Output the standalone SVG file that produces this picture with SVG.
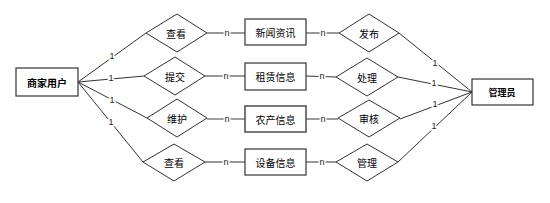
<svg xmlns="http://www.w3.org/2000/svg" width="550" height="203" viewBox="0 0 550 203">
<style>
.ent{fill:#fff;stroke:#333;stroke-width:1.2}
.rel{fill:#fff;stroke:#333;stroke-width:1}
.t{font-family:"Noto Sans CJK SC","Liberation Sans",sans-serif;font-size:10px;fill:#000;text-anchor:middle;dominant-baseline:central}
.lbl{font-family:"Liberation Sans",sans-serif;font-size:9px;fill:#222;text-anchor:middle;dominant-baseline:central;stroke:#fff;stroke-width:3;paint-order:stroke}
.ln{stroke:#333;stroke-width:1;fill:none}
.lg{stroke:#808080;stroke-width:1.6;fill:none}
</style>
<rect width="550" height="203" fill="#fff"/>
<g id="connectors">
<line class="ln" x1="78" y1="82" x2="146" y2="33"/>
<line class="ln" x1="78" y1="82" x2="144" y2="76"/>
<line class="ln" x1="78" y1="82" x2="147" y2="118"/>
<line class="ln" x1="78" y1="82" x2="143" y2="162"/>
<line class="ln" x1="207" y1="33" x2="245" y2="33"/>
<line class="ln" x1="205" y1="76" x2="245" y2="76"/>
<line class="lg" x1="207" y1="119" x2="245" y2="119"/>
<line class="ln" x1="205" y1="162" x2="245" y2="162"/>
<line class="ln" x1="306" y1="33" x2="339" y2="33"/>
<line class="ln" x1="306" y1="76" x2="336" y2="77"/>
<line class="lg" x1="306" y1="119" x2="338" y2="119"/>
<line class="ln" x1="306" y1="162" x2="336" y2="162"/>
<line class="ln" x1="399" y1="33" x2="472" y2="92"/>
<line class="ln" x1="398" y1="77" x2="472" y2="92"/>
<line class="ln" x1="400" y1="119" x2="472" y2="92"/>
<line class="ln" x1="398" y1="162" x2="472" y2="92"/>
<text class="lbl" x="112" y="56">1</text>
<text class="lbl" x="111" y="78">1</text>
<text class="lbl" x="112" y="100">1</text>
<text class="lbl" x="111" y="122">1</text>
<text class="lbl" x="227" y="33">n</text>
<text class="lbl" x="226" y="76">n</text>
<text class="lbl" x="227" y="119">n</text>
<text class="lbl" x="226" y="162">n</text>
<text class="lbl" x="323" y="33">n</text>
<text class="lbl" x="322" y="76">n</text>
<text class="lbl" x="323" y="119">n</text>
<text class="lbl" x="322" y="162">n</text>
<text class="lbl" x="435" y="63">1</text>
<text class="lbl" x="434" y="83">1</text>
<text class="lbl" x="435" y="104">1</text>
<text class="lbl" x="434" y="126">1</text>
</g>
<g id="shangjia"><rect class="ent" x="16" y="68" width="62" height="28"/><text class="t" x="47" y="82" font-weight="bold">商家用户</text></g>
<g id="guanliyuan"><rect class="ent" x="472" y="79" width="61" height="26"/><text class="t" x="502" y="92" font-weight="bold" style="font-size:9px">管理员</text></g>
<g id="chakan1"><polygon class="rel" points="146,33 177,14 207,33 177,52"/><text class="t" x="176" y="33">查看</text></g>
<g id="tijiao"><polygon class="rel" points="144,76 175,57 205,76 175,95"/><text class="t" x="175" y="76">提交</text></g>
<g id="weihu"><polygon class="rel" points="147,118 177,99 207,118 177,137"/><text class="t" x="177" y="118">维护</text></g>
<g id="chakan2"><polygon class="rel" points="143,162 174,144 205,162 174,181"/><text class="t" x="174" y="162">查看</text></g>
<g id="xinwen"><rect class="ent" x="245" y="19" width="61" height="26"/><text class="t" x="275.5" y="32">新闻资讯</text></g>
<g id="zulin"><rect class="ent" x="245" y="63" width="61" height="27"/><text class="t" x="275.5" y="76.5">租赁信息</text></g>
<g id="nongchan"><rect class="ent" x="245" y="106" width="61" height="26" style="stroke:#555;stroke-width:1.6"/><text class="t" x="275.5" y="119">农产信息</text></g>
<g id="shebei"><rect class="ent" x="245" y="149" width="61" height="26"/><text class="t" x="275.5" y="162">设备信息</text></g>
<g id="fabu"><polygon class="rel" points="339,33 369,14 399,33 369,52"/><text class="t" x="369" y="33">发布</text></g>
<g id="chuli"><polygon class="rel" points="336,77 367,58 398,77 367,96"/><text class="t" x="367" y="77">处理</text></g>
<g id="shenhe"><polygon class="rel" points="338,118 369,100 400,118 369,137"/><text class="t" x="369" y="118">审核</text></g>
<g id="guanli"><polygon class="rel" points="336,162 367,144 398,162 367,181"/><text class="t" x="367" y="162">管理</text></g>
</svg>
